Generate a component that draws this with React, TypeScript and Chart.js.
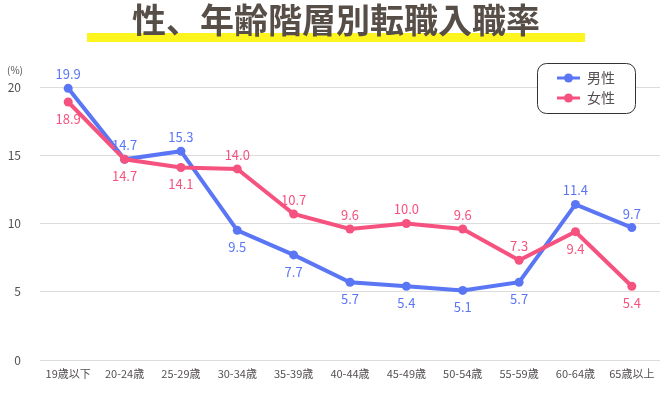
import React, { useEffect, useRef } from "react";
import { Chart, registerables } from "chart.js";

Chart.register(...registerables);

const TITLE = "性、年齢階層別転職入職率";
const UNIT = "(%)";
const categories = ["19歳以下", "20-24歳", "25-29歳", "30-34歳", "35-39歳", "40-44歳", "45-49歳", "50-54歳", "55-59歳", "60-64歳", "65歳以上"];
const maleLabel = "男性";
const femaleLabel = "女性";
const maleValues = [19.9, 14.7, 15.3, 9.5, 7.7, 5.7, 5.4, 5.1, 5.7, 11.4, 9.7];
const femaleValues = [18.9, 14.7, 14.1, 14.0, 10.7, 9.6, 10.0, 9.6, 7.3, 9.4, 5.4];

const BLUE = "#5a76f5";
const PINK = "#f6527f";
const TEXT = "#555050";
const FONT = "'Noto Sans CJK JP', 'Noto Sans', sans-serif";

const decorPlugin = {
  id: "decor",
  beforeDraw(chart: any) {
    const ctx = chart.ctx;
    ctx.save();
    ctx.fillStyle = "#fff51e";
    ctx.fillRect(87, 33, 498, 9);
    ctx.fillStyle = "#574e48";
    ctx.font = `bold 34px ${FONT}`;
    ctx.textAlign = "center";
    ctx.textBaseline = "middle";
    ctx.fillText(TITLE, 336, 20);
    ctx.fillStyle = TEXT;
    ctx.font = `10px ${FONT}`;
    ctx.textAlign = "left";
    ctx.fillText(UNIT, 7, 70);
    ctx.restore();
  },
  afterDatasetsDraw(chart: any) {
    const ctx = chart.ctx;
    ctx.save();
    ctx.font = `13px ${FONT}`;
    ctx.textAlign = "center";
    ctx.textBaseline = "middle";
    chart.data.datasets.forEach((ds: any, di: number) => {
      const meta = chart.getDatasetMeta(di);
      const other = chart.data.datasets[1 - di].data;
      ds.data.forEach((v: number, i: number) => {
        const pt = meta.data[i];
        const above = di === 0 ? v >= other[i] : v > other[i];
        const y = above ? pt.y - 14 : pt.y + 17;
        ctx.fillStyle = ds.borderColor;
        ctx.fillText(v.toFixed(1), pt.x, y);
      });
    });
    ctx.restore();
  },
  afterDraw(chart: any) {
    const ctx = chart.ctx;
    ctx.save();
    const x = 537, y = 63, w = 98, h = 50, r = 9;
    ctx.beginPath();
    ctx.roundRect(x + 0.5, y + 0.5, w, h, r);
    ctx.fillStyle = "#ffffff";
    ctx.fill();
    ctx.strokeStyle = "#333333";
    ctx.lineWidth = 1;
    ctx.stroke();
    const items = [
      { label: chart.data.datasets[0].label, color: chart.data.datasets[0].borderColor, cy: 78 },
      { label: chart.data.datasets[1].label, color: chart.data.datasets[1].borderColor, cy: 98 },
    ];
    items.forEach((it) => {
      ctx.strokeStyle = it.color;
      ctx.lineWidth = 3;
      ctx.beginPath();
      ctx.moveTo(557, it.cy);
      ctx.lineTo(580, it.cy);
      ctx.stroke();
      ctx.fillStyle = it.color;
      ctx.beginPath();
      ctx.arc(568.5, it.cy, 4.5, 0, Math.PI * 2);
      ctx.fill();
      ctx.fillStyle = TEXT;
      ctx.font = `14px ${FONT}`;
      ctx.textAlign = "left";
      ctx.textBaseline = "middle";
      ctx.fillText(it.label, 587, it.cy);
    });
    ctx.restore();
  },
};

export default function App() {
  const ref = useRef<HTMLCanvasElement>(null);
  useEffect(() => {
    if (!ref.current) return;
    const chart = new Chart(ref.current, {
      type: "line",
      data: {
        labels: categories,
        datasets: [
          {
            label: maleLabel,
            data: maleValues,
            borderColor: BLUE,
            backgroundColor: BLUE,
            borderWidth: 4,
            pointRadius: 4.5,
            pointBorderWidth: 0,
            pointBackgroundColor: BLUE,
            tension: 0,
            order: 2,
            clip: false as any,
          },
          {
            label: femaleLabel,
            data: femaleValues,
            borderColor: PINK,
            backgroundColor: PINK,
            borderWidth: 4,
            pointRadius: 4.5,
            pointBorderWidth: 0,
            pointBackgroundColor: PINK,
            tension: 0,
            order: 1,
            clip: false as any,
          },
        ],
      },
      options: {
        responsive: false,
        animation: false,
        layout: { padding: { top: 87, right: 8, left: 0, bottom: 0 } },
        plugins: {
          legend: { display: false },
          title: { display: false },
          tooltip: { enabled: false },
        },
        scales: {
          x: {
            offset: true,
            grid: { display: false, drawTicks: false },
            border: { display: false },
            ticks: {
              color: TEXT,
              font: { size: 11, family: FONT },
              padding: 7,
              maxRotation: 0,
              autoSkip: false,
            },
            afterFit: (s: any) => {
              s.height = 40;
            },
          },
          y: {
            min: 0,
            max: 20,
            grid: { color: "#dcdcdc", lineWidth: 1, drawTicks: false },
            border: { display: false },
            ticks: {
              stepSize: 5,
              color: TEXT,
              font: { size: 12, family: FONT },
              padding: 19,
            },
            afterFit: (s: any) => {
              s.width = 40;
            },
          },
        },
      },
      plugins: [decorPlugin],
    });
    return () => chart.destroy();
  }, []);
  return (
    <div style={{ position: "absolute", left: 0, top: 0, width: 668, height: 400, background: "#fff" }}>
      <canvas ref={ref} width={668} height={400} style={{ display: "block" }} />
    </div>
  );
}
